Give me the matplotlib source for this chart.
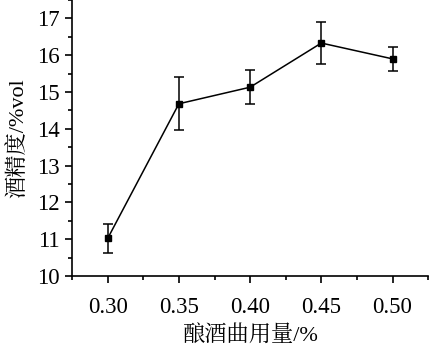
import matplotlib.pyplot as plt
from matplotlib.ticker import MultipleLocator

plt.rcParams['font.family'] = ['Liberation Serif', 'Noto Serif CJK SC', 'Noto Sans CJK SC']

dosage = [0.30, 0.35, 0.40, 0.45, 0.50]
alcohol = [11.02, 14.68, 15.13, 16.33, 15.90]
err = [0.40, 0.72, 0.46, 0.58, 0.33]
xticklabels = ['0.30', '0.35', '0.40', '0.45', '0.50']

fig = plt.figure(figsize=(4.29, 3.52), dpi=100)
ax = fig.add_axes([0.168, 0.216, 0.83, 0.784])

ax.errorbar(dosage, alcohol, yerr=err, color='black', marker='s', markersize=5,
            linewidth=1.1, elinewidth=1.1, capsize=3.5, capthick=1.1)

ax.set_xlim(0.275, 0.525)
ax.set_ylim(10, 17.5)
ax.set_xticks(dosage)
ax.set_xticklabels(xticklabels)
ax.xaxis.set_minor_locator(MultipleLocator(0.025))
ax.yaxis.set_major_locator(MultipleLocator(1))
ax.yaxis.set_minor_locator(MultipleLocator(0.5))

ax.spines['top'].set_visible(False)
ax.spines['right'].set_visible(False)
ax.spines['left'].set_linewidth(1.2)
ax.spines['bottom'].set_linewidth(1.2)
ax.tick_params(axis='both', which='major', direction='out', length=5, width=1.2,
               labelsize=16.5, pad=4)
ax.tick_params(axis='both', which='minor', direction='out', length=3, width=1.2)
ax.tick_params(axis='x', which='major', pad=10)

ax.set_xlabel('酿酒曲用量/%', fontsize=16, labelpad=6)
ax.set_ylabel('酒精度/%vol', fontsize=16, labelpad=6)

fig.savefig('out.png', dpi=100)
